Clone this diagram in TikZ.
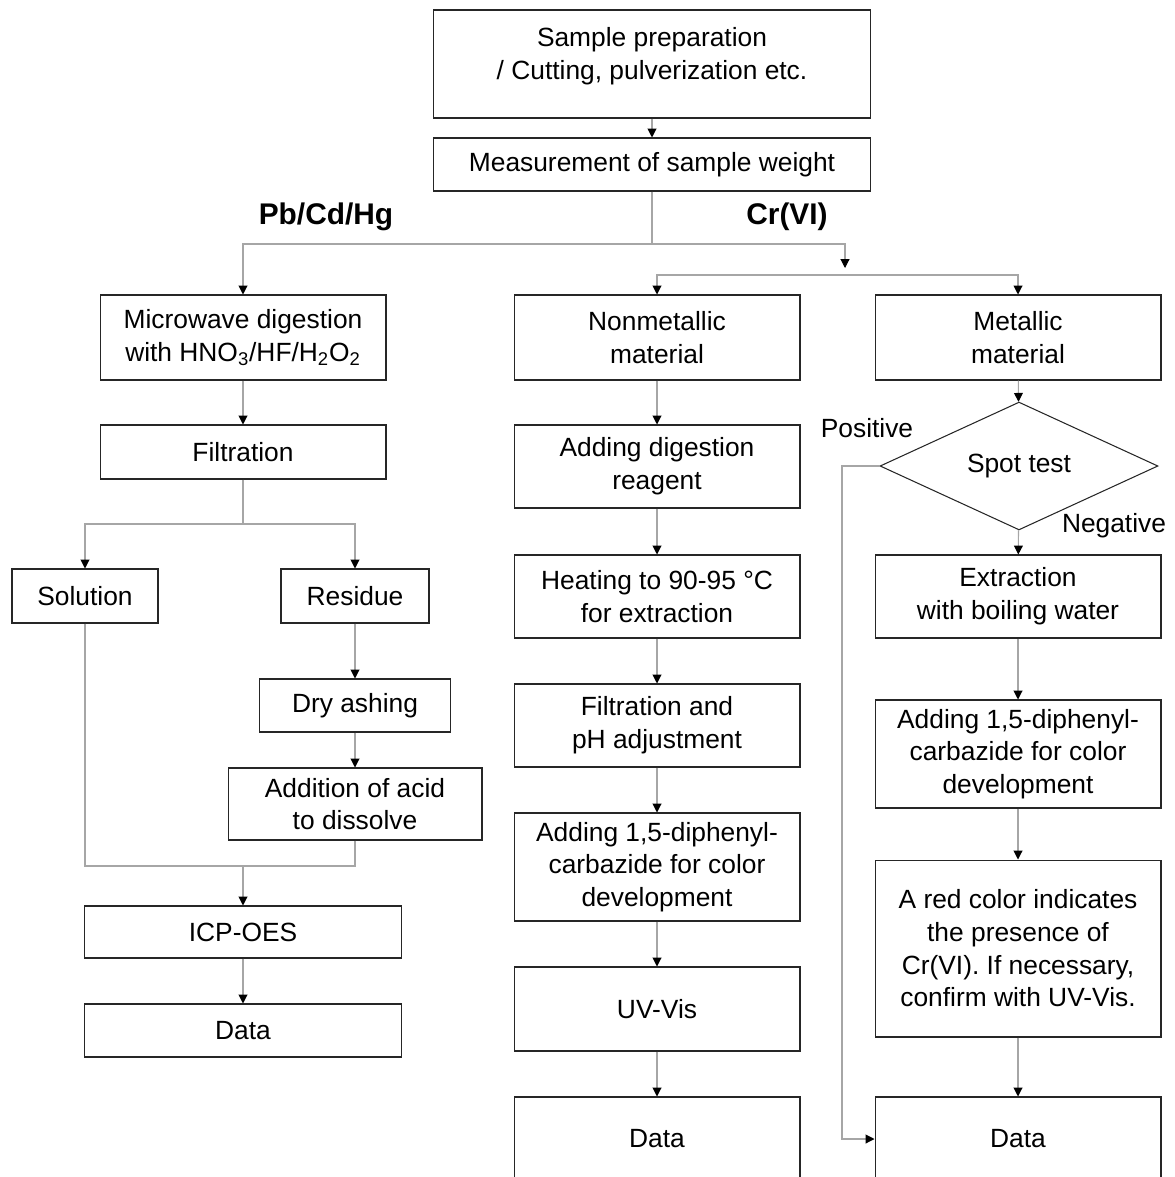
\documentclass[tikz,border=0pt]{standalone}
\usepackage{fontspec}
\setmainfont{Liberation Sans}
\usetikzlibrary{arrows.meta,shapes.geometric}
\tikzset{stepbox/.style={draw=black!85,line width=0.6pt,rectangle,align=center,inner sep=0pt},
    decision/.style={draw=black!85,line width=0.6pt,diamond,inner sep=0pt,minimum width=5.56cm,minimum height=2.42cm},
    flow/.style={draw=black!35,line width=0.6pt,-{Triangle[length=5pt,width=5pt,color=black]}},
    plainflow/.style={draw=black!35,line width=0.6pt},
    branchlabel/.style={font=\fontsize{17}{20}\selectfont\bfseries}
}

\begin{document}
\begin{tikzpicture}[x=0.02cm,y=-0.02cm,font=\fontsize{15}{18.6}\selectfont]
\useasboundingbox (0,0) rectangle (1175,1177);

% top of the chart
\node (prep) [stepbox,minimum width=8.76cm,minimum height=2.16cm,text depth=0.43cm] at (652,64) {Sample preparation\\/ Cutting, pulverization etc.};
\node (weigh) [stepbox,minimum width=8.76cm,minimum height=1.06cm] at (652,164.5) {Measurement of sample weight};

\node (pbcdhg) [branchlabel] at (326,217) {Pb/Cd/Hg};
\node (crvi) [branchlabel] at (787,217) {Cr(VI)};

% Pb/Cd/Hg branch
\node (microwave) [stepbox,minimum width=5.72cm,minimum height=1.7cm] at (243,337.5) {Microwave digestion\\with HNO\textsubscript{3}/HF/H\textsubscript{2}O\textsubscript{2}};
\node (filter) [stepbox,minimum width=5.72cm,minimum height=1.08cm] at (243,452) {Filtration};
\node (solution) [stepbox,minimum width=2.92cm,minimum height=1.08cm] at (85,596) {Solution};
\node (residue) [stepbox,minimum width=2.96cm,minimum height=1.08cm] at (355,596) {Residue};
\node (ashing) [stepbox,minimum width=3.82cm,minimum height=1.06cm] at (355,705.5) {Dry ashing};
\node (acid) [stepbox,minimum width=5.08cm,minimum height=1.44cm] at (355,804) {Addition of acid\\to dissolve};
\node (icp) [stepbox,minimum width=6.36cm,minimum height=1.04cm] at (243,932) {ICP-OES};
\node (dataL) [stepbox,minimum width=6.36cm,minimum height=1.06cm] at (243,1030.5) {Data};

% Cr(VI), nonmetallic
\node (nonmetal) [stepbox,minimum width=5.72cm,minimum height=1.7cm] at (657,337.5) {Nonmetallic\\material};
\node (reagent) [stepbox,minimum width=5.72cm,minimum height=1.66cm] at (657,466.5) {Adding digestion\\reagent};
\node (heating) [stepbox,minimum width=5.72cm,minimum height=1.66cm] at (657,596.5) {Heating to 90-95 °C\\for extraction};
\node (filterph) [stepbox,minimum width=5.72cm,minimum height=1.66cm] at (657,725.5) {Filtration and\\pH adjustment};
\node (colorN) [stepbox,minimum width=5.72cm,minimum height=2.16cm] at (657,867) {Adding 1,5-diphenyl-\\carbazide for color\\development};
\node (uvvis) [stepbox,minimum width=5.72cm,minimum height=1.68cm] at (657,1009) {UV-Vis};
\node (dataN) [stepbox,minimum width=5.72cm,minimum height=1.68cm] at (657,1139) {Data};

% Cr(VI), metallic
\node (metal) [stepbox,minimum width=5.72cm,minimum height=1.7cm] at (1018,337.5) {Metallic\\material};
\node (spot) [decision] at (1019,466) {Spot test};
\node (positive) at (867,428) {Positive};
\node (negative) at (1114,526) {Negative};
\node (extract) [stepbox,minimum width=5.72cm,minimum height=1.66cm] at (1018,596.5) {Extraction\\with boiling water};
\node (colorM) [stepbox,minimum width=5.72cm,minimum height=2.16cm] at (1018,754) {Adding 1,5-diphenyl-\\carbazide for color\\development};
\node (redcolor) [stepbox,minimum width=5.72cm,minimum height=3.54cm] at (1018,948.5) {A red color indicates\\the presence of\\Cr(VI). If necessary,\\confirm with UV-Vis.};
\node (dataM) [stepbox,minimum width=5.72cm,minimum height=1.68cm] at (1018,1139) {Data};

\coordinate (split) at (652,244);
\coordinate (crend) at (845,268);
\coordinate (crbranch) at (845,275);
\coordinate (filtersplit) at (243,524);
\coordinate (merge) at (243,866);
\coordinate (posturn) at (842,466);

\draw [flow] (prep) -- (weigh);
\draw [plainflow] (weigh) -- (split);
\draw [flow] (split) -| (microwave);
\draw [flow] (split) -| (crend);
\draw [flow] (crbranch) -| (nonmetal);
\draw [flow] (crbranch) -| (metal);

\draw [flow] (microwave) -- (filter);
\draw [plainflow] (filter) -- (filtersplit);
\draw [flow] (filtersplit) -| (solution);
\draw [flow] (filtersplit) -| (residue);
\draw [flow] (residue) -- (ashing);
\draw [flow] (ashing) -- (acid);
\draw [plainflow] (solution) |- (merge);
\draw [plainflow] (acid) |- (merge);
\draw [flow] (merge) -- (icp);
\draw [flow] (icp) -- (dataL);

\draw [flow] (nonmetal) -- (reagent);
\draw [flow] (reagent) -- (heating);
\draw [flow] (heating) -- (filterph);
\draw [flow] (filterph) -- (colorN);
\draw [flow] (colorN) -- (uvvis);
\draw [flow] (uvvis) -- (dataN);

\draw [flow] (metal) -- (spot);
\draw [flow] (spot) -- (extract);
\draw [flow] (extract) -- (colorM);
\draw [flow] (colorM) -- (redcolor);
\draw [flow] (redcolor) -- (dataM);
\draw [flow] (spot.west) -- (posturn) |- (dataM);

\end{tikzpicture}
\end{document}
